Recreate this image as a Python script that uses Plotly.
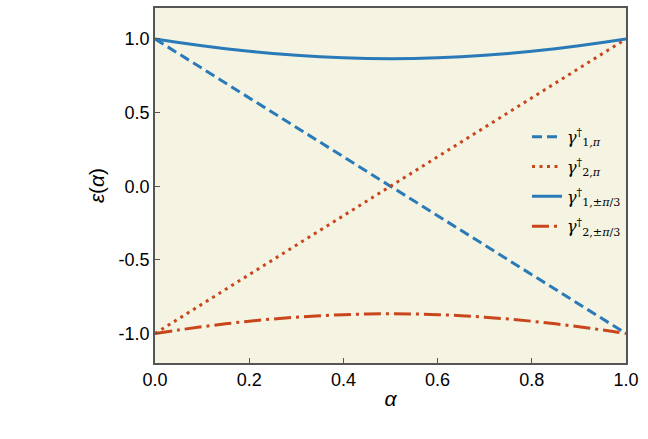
import plotly.graph_objects as go

alpha = [0.0, 0.05, 0.1, 0.15, 0.2, 0.25, 0.3, 0.35, 0.4, 0.45, 0.5,
         0.55, 0.6, 0.65, 0.7, 0.75, 0.8, 0.85, 0.9, 0.95, 1.0]
g1_pi = [1.0, 0.9, 0.8, 0.7, 0.6, 0.5, 0.4, 0.3, 0.2, 0.1, 0.0,
         -0.1, -0.2, -0.3, -0.4, -0.5, -0.6, -0.7, -0.8, -0.9, -1.0]
g2_pi = [-1.0, -0.9, -0.8, -0.7, -0.6, -0.5, -0.4, -0.3, -0.2, -0.1, 0.0,
         0.1, 0.2, 0.3, 0.4, 0.5, 0.6, 0.7, 0.8, 0.9, 1.0]
g1_pi3 = [1.0, 0.976, 0.954, 0.934, 0.9165, 0.9014, 0.8888, 0.8789, 0.8718, 0.8675, 0.866,
          0.8675, 0.8718, 0.8789, 0.8888, 0.9014, 0.9165, 0.934, 0.954, 0.976, 1.0]
g2_pi3 = [-1.0, -0.976, -0.954, -0.934, -0.9165, -0.9014, -0.8888, -0.8789, -0.8718, -0.8675, -0.866,
          -0.8675, -0.8718, -0.8789, -0.8888, -0.9014, -0.9165, -0.934, -0.954, -0.976, -1.0]

blue = "#2a7ab9"
red = "#c9461c"

names = ["<i>γ</i><sup>†</sup><sub>1,<i>π</i></sub>", "<i>γ</i><sup>†</sup><sub>2,<i>π</i></sub>",
         "<i>γ</i><sup>†</sup><sub>1,±<i>π</i>/3</sub>", "<i>γ</i><sup>†</sup><sub>2,±<i>π</i>/3</sub>"]

fig = go.Figure()
fig.add_trace(go.Scatter(x=alpha, y=g1_pi, mode="lines", name=names[0], legendgroup="a",
                         line=dict(color=blue, width=3, dash="10px,5px")))
fig.add_trace(go.Scatter(x=alpha, y=g2_pi, mode="lines", name=names[1], legendgroup="b",
                         line=dict(color=red, width=3, dash="3px,4.5px")))
fig.add_trace(go.Scatter(x=alpha, y=g1_pi3, mode="lines", name=names[2], legendgroup="c",
                         line=dict(color=blue, width=3, shape="spline")))
fig.add_trace(go.Scatter(x=alpha, y=g2_pi3, mode="lines", name=names[3], legendgroup="d",
                         line=dict(color=red, width=3, dash="17px,5px,3px,5px", shape="spline")))

tick_font = dict(family="Liberation Sans, Arial", size=18, color="black")
axis_common = dict(showline=True, linecolor="#555555", linewidth=1.5, mirror=True,
                   ticks="inside", ticklen=5, tickwidth=1, tickcolor="#555555",
                   showgrid=False, zeroline=False, tickfont=tick_font)

fig.update_layout(
    width=648, height=439,
    margin=dict(l=155, r=22, t=6, b=76),
    paper_bgcolor="white",
    plot_bgcolor="#f5f3e1",
    xaxis=dict(range=[0, 1], tickvals=[0, 0.2, 0.4, 0.6, 0.8, 1.0],
               ticktext=["0.0", "0.2", "0.4", "0.6", "0.8", "1.0"],
               title=dict(text="<i>α</i>", font=dict(family="Liberation Sans, Arial", size=21, color="black"), standoff=2),
               **axis_common),
    yaxis=dict(range=[-1.2, 1.21], tickvals=[-1, -0.5, 0, 0.5, 1],
               ticktext=["-1.0", "-0.5", "0.0", "0.5", "1.0"],
               title=dict(text="<i>ε</i>(<i>α</i>)", font=dict(family="Liberation Sans, Arial", size=21, color="black"), standoff=8),
               **axis_common),
    legend=dict(x=1.0, y=0.685, xanchor="right", yanchor="top",
                bgcolor="rgba(0,0,0,0)", borderwidth=0,
                font=dict(family="DejaVu Serif", size=16, color="black"),
                tracegroupgap=6, itemwidth=30),
    showlegend=True,
)

fig.write_html("out.html")
